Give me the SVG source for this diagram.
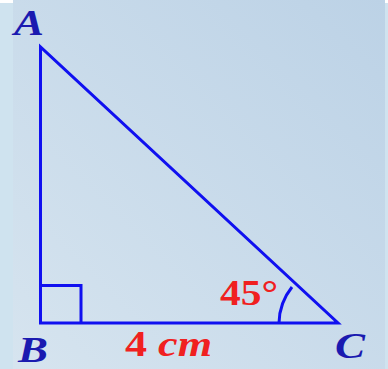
<svg xmlns="http://www.w3.org/2000/svg" width="388" height="369" viewBox="0 0 388 369">
<defs>
<linearGradient id="bg" x1="1" y1="0" x2="0" y2="1">
<stop offset="0" stop-color="#bcd2e6"/>
<stop offset="1" stop-color="#d6e4ef"/>
</linearGradient>
<style>
.ln{fill:none;stroke:#1010f0;stroke-width:3}
.lbl{font-family:"Liberation Serif",serif;font-style:italic;font-weight:bold;font-size:35px;fill:#1a1ab0}
.red{font-family:"Liberation Serif",serif;font-weight:bold;font-size:35px;fill:#f02020}
</style>
</defs>
<rect x="0" y="0" width="388" height="369" fill="#cfe3ef"/>
<rect x="0" y="0" width="13" height="3" fill="#ffffff"/>
<rect x="385" y="0" width="3" height="3" fill="#ffffff"/>
<rect x="13" y="0" width="372" height="369" fill="url(#bg)"/>
<g id="connectors">
<path class="ln" d="M40.5 47 L40.5 323 L338 323 Z"/>
<path class="ln" d="M40.5 285.5 L81 285.5 L81 323"/>
<path class="ln" d="M279 323 A59 59 0 0 1 292 287"/>
</g>
<g id="A"><text class="lbl" x="14" y="35" textLength="30" lengthAdjust="spacingAndGlyphs">A</text></g>
<g id="B"><text class="lbl" x="18" y="362" textLength="30" lengthAdjust="spacingAndGlyphs">B</text></g>
<g id="C"><text class="lbl" x="335" y="358" textLength="30" lengthAdjust="spacingAndGlyphs">C</text></g>
<g id="len"><text class="red" x="125" y="356" textLength="87" lengthAdjust="spacingAndGlyphs">4 <tspan font-style="italic">cm</tspan></text></g>
<g id="ang"><text class="red" x="220" y="305" textLength="58" lengthAdjust="spacingAndGlyphs">45°</text></g>
</svg>
